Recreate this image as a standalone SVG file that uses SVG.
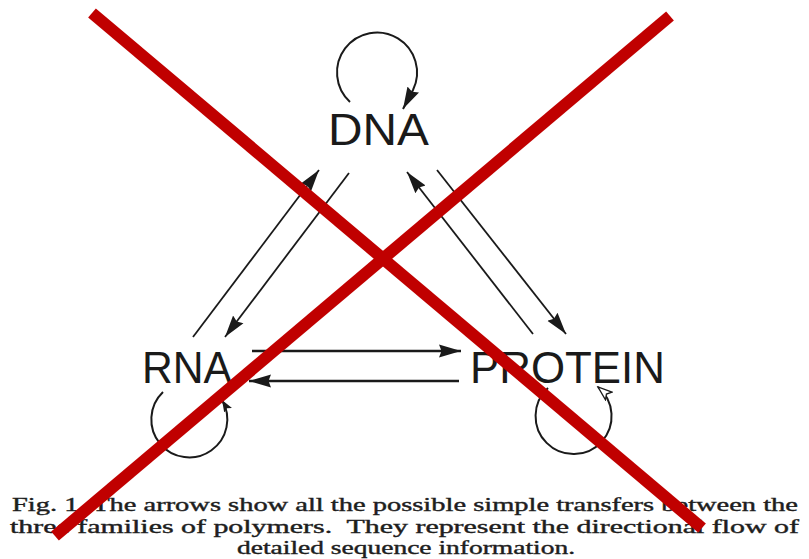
<svg xmlns="http://www.w3.org/2000/svg" width="809" height="559" viewBox="0 0 809 559">
<style>
.lbl{font-family:"Liberation Sans",Arial,sans-serif;font-size:45px;fill:#1a1a1a}
.cap{font-family:"Liberation Serif","Times New Roman",serif;font-size:19px;fill:#1e1e1e;stroke:#1e1e1e;stroke-width:0.4;white-space:pre}
.ln{fill:none;stroke:#1a1a1a;stroke-width:1.8}
.hl{fill:none;stroke:#1a1a1a;stroke-width:2.6}
.lp{fill:none;stroke:#1a1a1a;stroke-width:2}
.x{stroke:#c00000;stroke-width:12;stroke-linecap:butt}
</style>
<defs>
<marker id="ah" markerUnits="userSpaceOnUse" markerWidth="24" markerHeight="16" refX="22" refY="8" orient="auto">
<path d="M0,1.5 L22,8 L0,14.5 L2.5,8 Z" fill="#1a1a1a"/>
</marker>
<marker id="ahs" markerUnits="userSpaceOnUse" markerWidth="14" markerHeight="10" refX="12" refY="5" orient="auto">
<path d="M0,0.5 L12,5 L0,9.5 L2.5,5 Z" fill="#1a1a1a"/>
</marker>
<marker id="aho" markerUnits="userSpaceOnUse" markerWidth="17" markerHeight="12" refX="15" refY="6" orient="auto">
<path d="M1,1 L15,6 L1,11 L4,6 Z" fill="#fff" stroke="#1a1a1a" stroke-width="1.3"/>
</marker>
</defs>
<rect width="809" height="559" fill="#fff"/>
<g id="connectors">
<path class="ln" d="M193,337 L319,170" marker-end="url(#ah)"/>
<path class="ln" d="M349,173 L225,337" marker-end="url(#ah)"/>
<path class="ln" d="M533,334 L407,172" marker-end="url(#ah)"/>
<path class="ln" d="M437,170 L566,334" marker-end="url(#ah)"/>
<path class="hl" d="M252,351 L461,351" marker-end="url(#ah)"/>
<path class="hl" d="M459,381 L249,381" marker-end="url(#ah)"/>
<path class="lp" d="M350,102 A40,40 0 1 1 413,90 L403,109" marker-end="url(#ah)"/>
<path class="lp" d="M163,392 A38,38 0 1 0 222,400" marker-end="url(#ahs)"/>
<path class="lp" d="M548,388 A38,38 0 1 0 598,387" marker-end="url(#aho)"/>
</g>
<g id="node-dna"><text class="lbl" x="328" y="145" textLength="101" lengthAdjust="spacingAndGlyphs">DNA</text></g>
<g id="node-rna"><text class="lbl" x="142" y="383" textLength="90" lengthAdjust="spacingAndGlyphs">RNA</text></g>
<g id="node-protein"><text class="lbl" x="470" y="383" textLength="195" lengthAdjust="spacingAndGlyphs">PROTEIN</text></g>
<g id="caption">
<text class="cap" x="12" y="511" textLength="786" lengthAdjust="spacingAndGlyphs">Fig. 1. The arrows show all the possible simple transfers between the</text>
<text class="cap" x="10" y="532.5" textLength="789" lengthAdjust="spacingAndGlyphs" xml:space="preserve">three families of polymers.  They represent the directional flow of</text>
<text class="cap" x="237" y="554" textLength="338" lengthAdjust="spacingAndGlyphs">detailed sequence information.</text>
</g>
<g id="cross">
<line class="x" x1="92" y1="13" x2="702" y2="528"/>
<line class="x" x1="670" y1="16" x2="55" y2="536"/>
</g>
</svg>
